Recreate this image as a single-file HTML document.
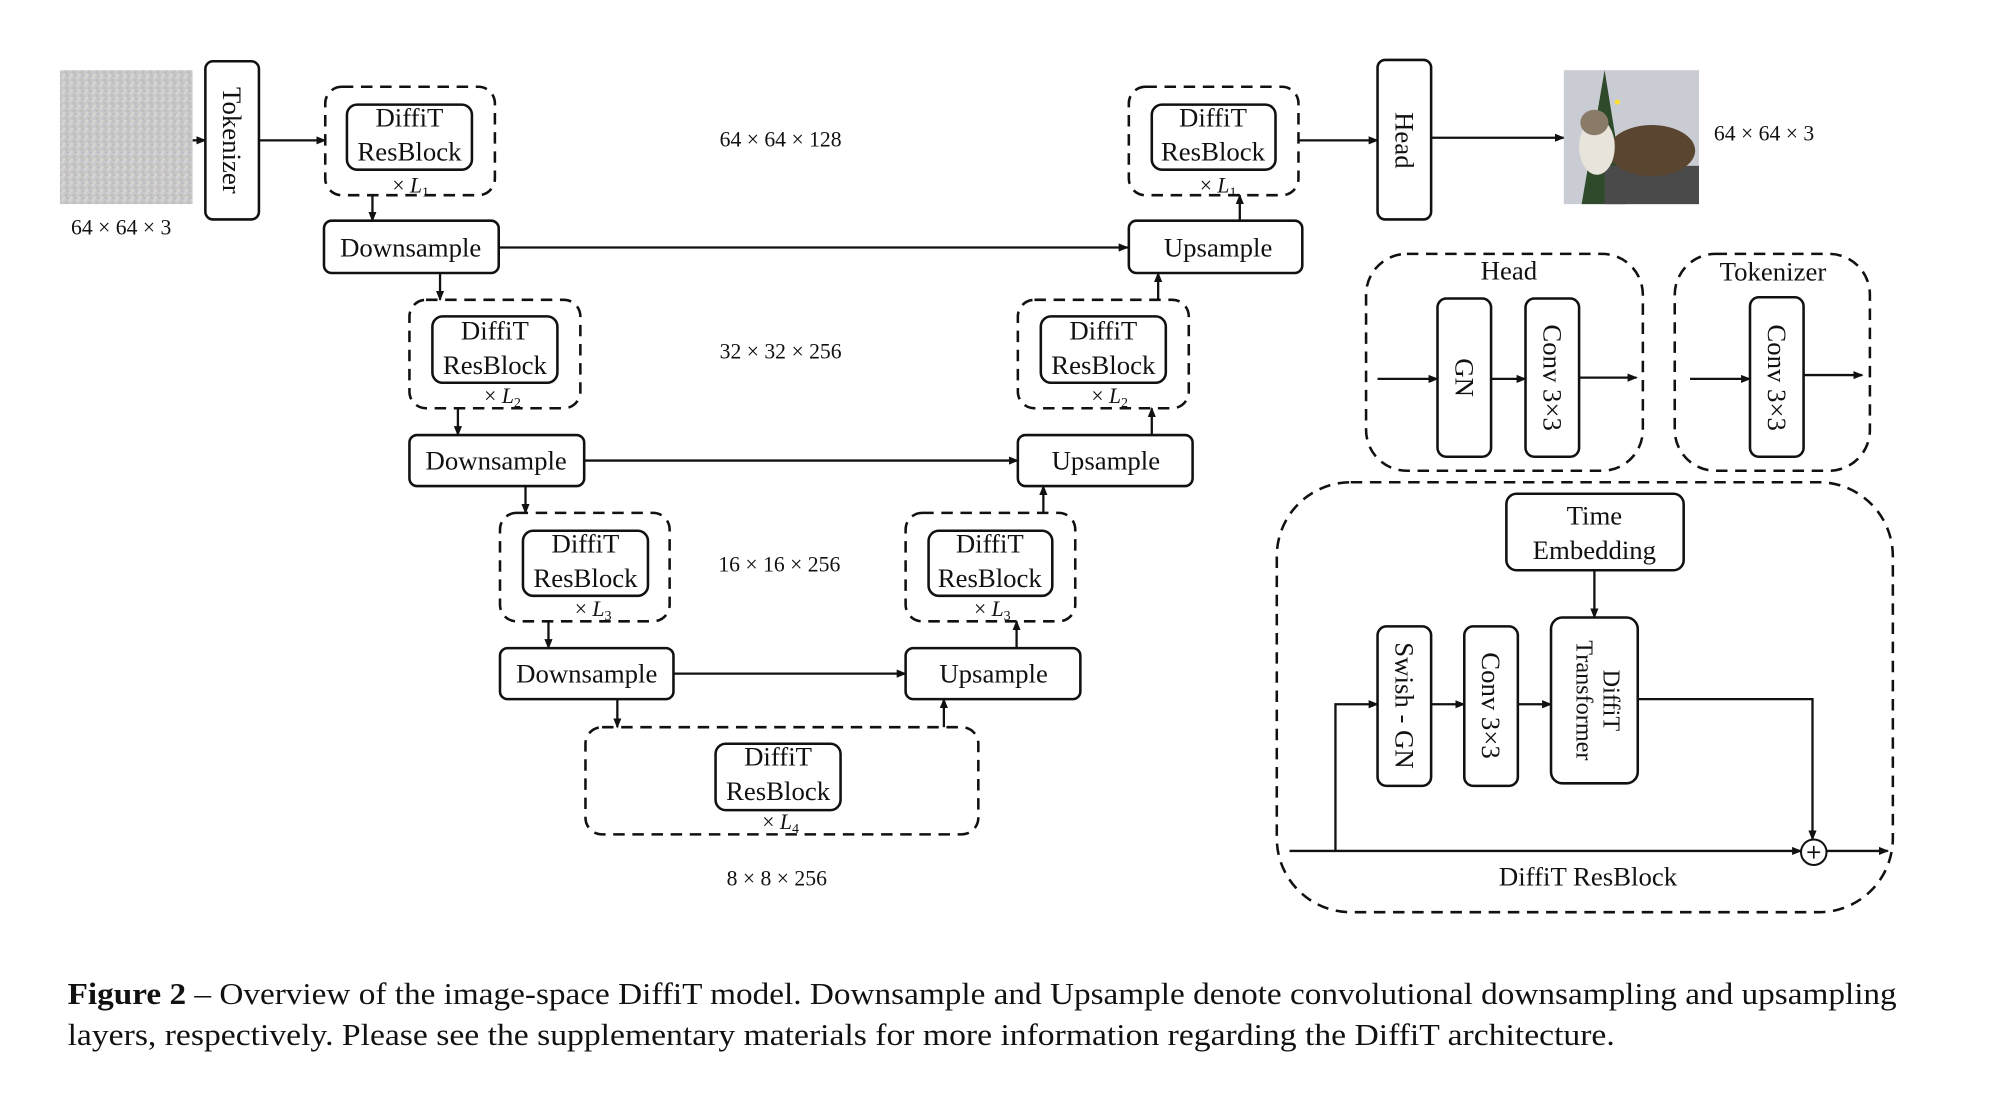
<!DOCTYPE html>
<html><head><meta charset="utf-8"><style>
html,body{margin:0;padding:0;background:#fff;}
svg{display:block;}
text{font-family:"Liberation Serif",serif;fill:#111;}
</style></head><body>
<svg width="2000" height="1101" viewBox="0 0 1568 863" preserveAspectRatio="none" xmlns="http://www.w3.org/2000/svg">
<defs>
<marker id="a" markerWidth="8" markerHeight="8" refX="7" refY="4" orient="auto" markerUnits="userSpaceOnUse">
<path d="M0,0.8 L8,4 L0,7.2 z" fill="#111"/></marker>
<pattern id="noise" width="6" height="6" patternUnits="userSpaceOnUse">
<rect width="6" height="6" fill="#c9c7c9"/>
<rect x="0" y="0" width="2" height="2" fill="#d8d2dc"/><rect x="3" y="2" width="2" height="2" fill="#b9c0b8"/>
<rect x="1" y="4" width="2" height="2" fill="#d6d8cf"/><rect x="4" y="5" width="2" height="1" fill="#bcb6c2"/>
</pattern>
</defs>
<g fill="none" stroke="#111" stroke-width="2">
<g stroke-dasharray="9,6">
<rect x="255" y="68" width="133" height="85" rx="13"/>
<rect x="885" y="68" width="133" height="85" rx="13"/>
<rect x="321" y="235" width="134" height="85" rx="13"/>
<rect x="798" y="235" width="134" height="85" rx="13"/>
<rect x="392" y="402" width="133" height="85" rx="13"/>
<rect x="710" y="402" width="133" height="85" rx="13"/>
<rect x="459" y="570" width="308" height="84" rx="13"/>
<rect x="1071" y="199" width="217" height="170" rx="32"/>
<rect x="1313" y="199" width="153" height="170" rx="32"/>
<rect x="1001" y="378" width="483" height="337" rx="58"/>
</g>
<rect x="161" y="48" width="42" height="124" rx="6"/>
<rect x="1080" y="47" width="42" height="125" rx="6"/>
<rect x="272" y="82" width="98" height="51" rx="8"/>
<rect x="903" y="82" width="97" height="51" rx="8"/>
<rect x="339" y="248" width="98" height="52" rx="8"/>
<rect x="816" y="248" width="98" height="52" rx="8"/>
<rect x="410" y="416" width="98" height="51" rx="8"/>
<rect x="728" y="416" width="97" height="51" rx="8"/>
<rect x="561" y="583" width="98" height="52" rx="8"/>
<rect x="254" y="173" width="137" height="41" rx="6"/>
<rect x="885" y="173" width="136" height="41" rx="6"/>
<rect x="321" y="341" width="137" height="40" rx="6"/>
<rect x="798" y="341" width="137" height="40" rx="6"/>
<rect x="392" y="508" width="136" height="40" rx="6"/>
<rect x="710" y="508" width="137" height="40" rx="6"/>
<rect x="1127" y="234" width="42" height="124" rx="7"/>
<rect x="1196" y="234" width="42" height="124" rx="7"/>
<rect x="1372" y="233" width="42" height="125" rx="7"/>
<rect x="1181" y="387" width="139" height="60" rx="8"/>
<rect x="1080" y="491" width="42" height="125" rx="7"/>
<rect x="1148" y="491" width="42" height="125" rx="7"/>
<rect x="1216" y="484" width="68" height="130" rx="9"/>
<circle cx="1422" cy="668" r="10" stroke-width="1.6"/>
</g>
<g fill="none" stroke="#111" stroke-width="1.8" marker-end="url(#a)">
<path d="M151,110 H161"/>
<path d="M203,110 H255"/>
<path d="M292,153 V173"/>
<path d="M391,194 H884"/>
<path d="M972,173 V153"/>
<path d="M1018,110 H1080"/>
<path d="M1122,108 H1226"/>
<path d="M345,214 V235"/>
<path d="M359,320 V341"/>
<path d="M458,361 H798"/>
<path d="M903,341 V320"/>
<path d="M908,235 V214"/>
<path d="M412,381 V402"/>
<path d="M430,487 V508"/>
<path d="M528,528 H710"/>
<path d="M797,508 V487"/>
<path d="M818,402 V381"/>
<path d="M484,548 V570"/>
<path d="M740,570 V548"/>
<path d="M1080,297 H1127"/>
<path d="M1169,297 H1196"/>
<path d="M1238,296 H1283"/>
<path d="M1325,297 H1372"/>
<path d="M1414,294 H1460"/>
<path d="M1250,447 V484"/>
<path d="M1011,667 H1412"/>
<path d="M1432,667 H1480"/>
<path d="M1047,667 V552 H1080"/>
<path d="M1122,552 H1148"/>
<path d="M1190,552 H1216"/>
<path d="M1284,548 H1421 V658"/>
</g>
<line x1="1417" y1="668" x2="1427" y2="668" stroke="#111" stroke-width="1.3"/>
<line x1="1422" y1="663" x2="1422" y2="673" stroke="#111" stroke-width="1.3"/>
<rect x="47" y="55" width="104" height="105" fill="url(#noise)"/>
<g>
<rect x="1226" y="55" width="106" height="105" fill="#c9ccd2"/>
<polygon points="1240,160 1258,55 1275,160" fill="#2e4a2a"/>
<circle cx="1250" cy="90" r="2" fill="#e33"/><circle cx="1262" cy="110" r="2" fill="#3c3"/><circle cx="1248" cy="125" r="2" fill="#39f"/><circle cx="1268" cy="80" r="2" fill="#fd3"/>
<rect x="1258" y="130" width="74" height="30" fill="#4a4a4a"/>
<ellipse cx="1295" cy="118" rx="34" ry="20" fill="#5a4530"/>
<ellipse cx="1252" cy="115" rx="14" ry="22" fill="#e8e4dc"/>
<ellipse cx="1250" cy="96" rx="11" ry="10" fill="#8a7a68"/>
</g>
<g font-size="21" text-anchor="middle">
<text x="321" y="99">DiffiT</text><text x="321" y="126">ResBlock</text>
<text x="951" y="99">DiffiT</text><text x="951" y="126">ResBlock</text>
<text x="388" y="266">DiffiT</text><text x="388" y="293">ResBlock</text>
<text x="865" y="266">DiffiT</text><text x="865" y="293">ResBlock</text>
<text x="459" y="433">DiffiT</text><text x="459" y="460">ResBlock</text>
<text x="776" y="433">DiffiT</text><text x="776" y="460">ResBlock</text>
<text x="610" y="600">DiffiT</text><text x="610" y="627">ResBlock</text>
<text x="322" y="201">Downsample</text>
<text x="955" y="201">Upsample</text>
<text x="389" y="368">Downsample</text>
<text x="867" y="368">Upsample</text>
<text x="460" y="535">Downsample</text>
<text x="779" y="535">Upsample</text>
<text x="1183" y="219">Head</text>
<text x="1390" y="220">Tokenizer</text>
<text x="1250" y="411">Time</text>
<text x="1250" y="438">Embedding</text>
<text x="1245" y="694">DiffiT ResBlock</text>
</g>
<g font-size="17" text-anchor="middle">
<text x="322" y="151">× <tspan font-style="italic">L</tspan><tspan font-size="11" dy="3">1</tspan></text>
<text x="955" y="151">× <tspan font-style="italic">L</tspan><tspan font-size="11" dy="3">1</tspan></text>
<text x="394" y="316">× <tspan font-style="italic">L</tspan><tspan font-size="11" dy="3">2</tspan></text>
<text x="870" y="316">× <tspan font-style="italic">L</tspan><tspan font-size="11" dy="3">2</tspan></text>
<text x="465" y="483">× <tspan font-style="italic">L</tspan><tspan font-size="11" dy="3">3</tspan></text>
<text x="778" y="483">× <tspan font-style="italic">L</tspan><tspan font-size="11" dy="3">3</tspan></text>
<text x="612" y="650">× <tspan font-style="italic">L</tspan><tspan font-size="11" dy="3">4</tspan></text>
<text x="95" y="184">64 × 64 × 3</text>
<text x="612" y="115">64 × 64 × 128</text>
<text x="612" y="281">32 × 32 × 256</text>
<text x="611" y="448">16 × 16 × 256</text>
<text x="609" y="694">8 × 8 × 256</text>
<text x="1383" y="110">64 × 64 × 3</text>
</g>
<g font-size="21" text-anchor="middle">
<text transform="translate(175,110) rotate(90)">Tokenizer</text>
<text transform="translate(1094,110) rotate(90)">Head</text>
<text transform="translate(1141,296) rotate(90)">GN</text>
<text transform="translate(1210,296) rotate(90)">Conv 3×3</text>
<text transform="translate(1386,296) rotate(90)">Conv 3×3</text>
<text transform="translate(1094,553) rotate(90)">Swish - GN</text>
<text transform="translate(1162,553) rotate(90)">Conv 3×3</text>
<text transform="translate(1257,549) rotate(90)" font-size="19">DiffiT</text>
<text transform="translate(1236,549) rotate(90)" font-size="19">Transformer</text>
</g>
<g font-size="24">
<text x="53" y="787" textLength="1434" lengthAdjust="spacingAndGlyphs"><tspan font-weight="bold">Figure 2</tspan> – Overview of the image-space DiffiT model. Downsample and Upsample denote convolutional downsampling and upsampling</text>
<text x="53" y="819" textLength="1213" lengthAdjust="spacingAndGlyphs">layers, respectively. Please see the supplementary materials for more information regarding the DiffiT architecture.</text>
</g>
</svg>
</body></html>
